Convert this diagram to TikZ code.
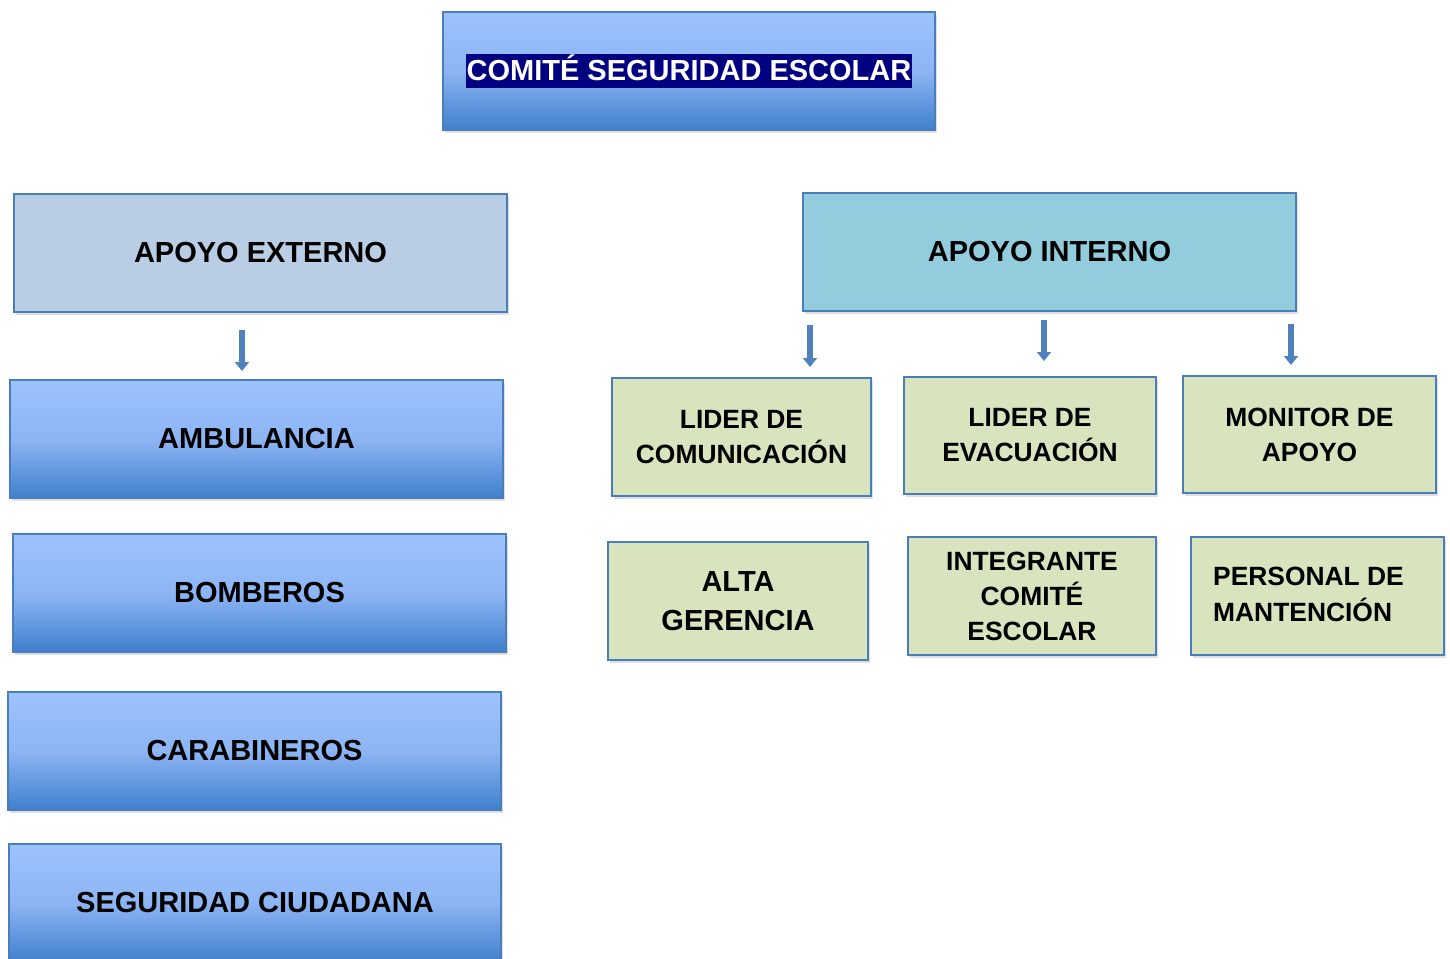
\documentclass[tikz,border=0pt]{standalone}
\usepackage{fontspec}
\setmainfont{Liberation Sans}
\usetikzlibrary{shadows,arrows.meta}
\definecolor{bord}{HTML}{4A7EBB}
\definecolor{gtop}{HTML}{9DC3FF}
\definecolor{gmid}{HTML}{8DB5F4}
\definecolor{gbot}{HTML}{3F7FCC}
\definecolor{extfill}{HTML}{B9CDE5}
\definecolor{intfill}{HTML}{93CDDD}
\definecolor{greenfill}{HTML}{D7E4BD}
\definecolor{navyhl}{HTML}{000080}
\definecolor{arrowc}{HTML}{4F81BD}
\tikzset{
  sz/.style 2 args={minimum width=#1*0.5pt, minimum height=#2*0.5pt},
  base/.style={draw=bord, line width=0.8pt, inner sep=0pt, align=center,
    drop shadow={opacity=0.25, shadow xshift=1pt, shadow yshift=-1.5pt}},
  bluebox/.style={base, top color=gtop, bottom color=gbot, middle color=gmid,
    font=\fontsize{14.5}{19.5}\selectfont\bfseries},
  extbox/.style={base, fill=extfill, font=\fontsize{14.5}{19.5}\selectfont\bfseries},
  intbox/.style={base, fill=intfill, font=\fontsize{14.5}{19.5}\selectfont\bfseries},
  greenbox/.style={base, fill=greenfill, font=\fontsize{13.2}{17.5}\selectfont\bfseries},
  biggreen/.style={base, fill=greenfill, font=\fontsize{14.5}{19.5}\selectfont\bfseries},
  blockarrow/.style={draw=arrowc, line width=3pt, -{Triangle[width=7pt,length=4.5pt]}},
}
\begin{document}
\begin{tikzpicture}[x=0.5pt,y=-0.5pt]
\useasboundingbox (0,0) rectangle (1450,958);
% title
\node[bluebox, sz={492}{118}] (title) at (689,71)
  {\setlength\fboxsep{0.5pt}\raisebox{1pt}{\colorbox{navyhl}{\color{white}\rule[-3.3pt]{0pt}{11.2pt}COMITÉ SEGURIDAD ESCOLAR}}};
% external
\node[extbox, sz={493}{118}] (ext) at (260.5,253) {APOYO EXTERNO};
\node[bluebox, sz={493}{118}] (amb) at (256.5,439) {AMBULANCIA};
\node[bluebox, sz={493}{118}] (bom) at (259.5,593) {BOMBEROS};
\node[bluebox, sz={493}{118}] (car) at (254.5,751) {CARABINEROS};
\node[bluebox, sz={492}{118}] (seg) at (255,903) {SEGURIDAD CIUDADANA};
% internal
\node[intbox, sz={493}{118}] (int) at (1049.5,252) {APOYO INTERNO};
\node[greenbox, sz={259}{118}] (lc) at (741.5,437) {LIDER DE\\COMUNICACIÓN};
\node[greenbox, sz={252}{117}] (le) at (1030,435.5) {LIDER DE\\EVACUACIÓN};
\node[greenbox, sz={253}{117}] (ma) at (1309.5,434.5) {MONITOR DE\\APOYO};
\node[biggreen, sz={260}{118}] (ag) at (738,601) {ALTA\\GERENCIA};
\node[greenbox, sz={248}{118}] (ic) at (1032,596) {INTEGRANTE\\COMITÉ\\ESCOLAR};
\node[greenbox, sz={253}{118}] (pm) at (1317.5,596)
  {\begin{tabular}{@{}l@{\hspace{9pt}}}PERSONAL DE\\[0.5pt]MANTENCIÓN\end{tabular}};
% arrows
\coordinate (a1s) at (242,330); \coordinate (a1e) at (242,371);
\coordinate (a2s) at (810,325); \coordinate (a2e) at (810,367);
\coordinate (a3s) at (1044,320); \coordinate (a3e) at (1044,361);
\coordinate (a4s) at (1291,324); \coordinate (a4e) at (1291,365);
\draw[blockarrow] (a1s) -- (a1e);
\draw[blockarrow] (a2s) -- (a2e);
\draw[blockarrow] (a3s) -- (a3e);
\draw[blockarrow] (a4s) -- (a4e);
\end{tikzpicture}
\end{document}
